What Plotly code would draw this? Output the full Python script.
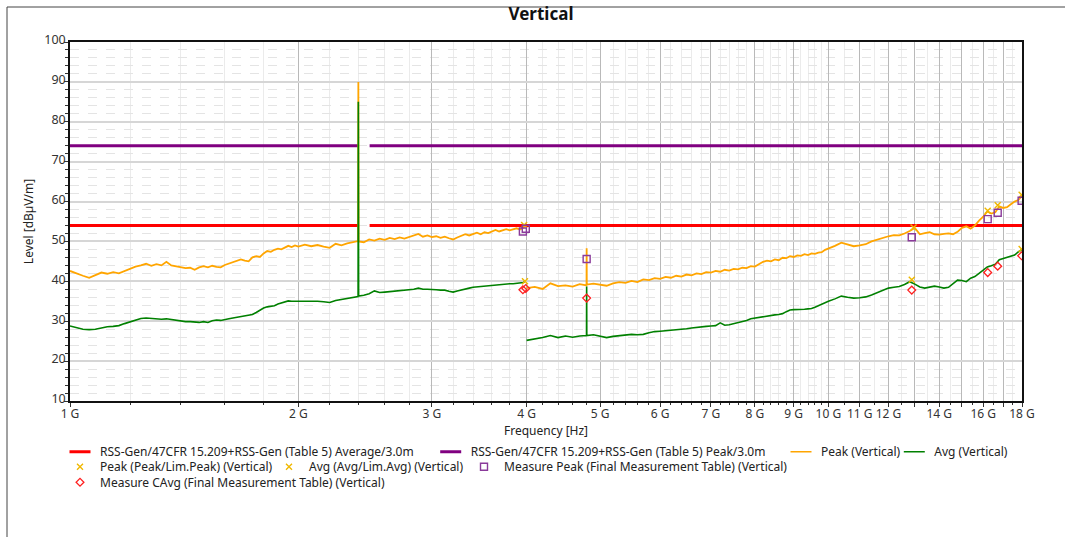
import math
import plotly.graph_objects as go

# ---------------- data (GHz / dBµV/m) ----------------
freq_seg1 = [1.00, 1.02, 1.04, 1.06, 1.08, 1.10, 1.12, 1.14, 1.16, 1.18,
             1.20, 1.22, 1.24, 1.26, 1.28, 1.30, 1.32, 1.34, 1.36, 1.38,
             1.40, 1.42, 1.44, 1.46, 1.48, 1.50, 1.52, 1.54, 1.56, 1.58,
             1.60, 1.62, 1.64, 1.66, 1.68, 1.70, 1.72, 1.74, 1.76, 1.78,
             1.80, 1.82, 1.84, 1.86, 1.88, 1.90, 1.92, 1.94, 1.96, 1.98,
             2.00, 2.04, 2.08, 2.12, 2.16, 2.20, 2.24, 2.28, 2.32, 2.36,
             2.398, 2.400, 2.402, 2.44, 2.48, 2.52, 2.56, 2.60, 2.64, 2.68,
             2.72, 2.76, 2.80, 2.84, 2.88, 2.92, 2.96, 3.00, 3.04, 3.08,
             3.12, 3.16, 3.20, 3.24, 3.28, 3.32, 3.36, 3.40, 3.44, 3.48,
             3.52, 3.56, 3.60, 3.64, 3.68, 3.72, 3.76, 3.80, 3.84, 3.88,
             3.92, 3.96, 3.98]
peak_seg1 = [42.6, 41.9, 41.4, 40.9, 41.5, 42.2, 41.9, 42.3, 42.0, 42.6,
             43.1, 43.7, 44.0, 44.4, 43.9, 44.3, 44.0, 44.9, 44.0, 43.8,
             43.6, 43.3, 43.4, 42.9, 43.5, 43.8, 43.5, 43.9, 43.6, 43.5,
             44.1, 44.5, 44.9, 45.3, 45.5, 45.2, 45.0, 46.0, 46.3, 46.1,
             47.0, 47.6, 47.4, 47.9, 48.2, 48.0, 48.5, 48.9, 48.6, 49.0,
             48.7, 49.2, 48.8, 49.1, 48.7, 48.4, 49.4, 49.0, 49.5, 49.8,
             50.1, 90.0, 50.0, 49.8, 50.5, 50.2, 50.7, 50.4, 50.9, 50.6,
             51.0, 50.7, 51.1, 51.4, 51.9, 51.2, 51.5, 51.1, 51.3, 50.9,
             51.2, 50.8, 50.5, 51.0, 51.4, 51.8, 51.5, 51.9, 52.2, 51.8,
             52.3, 52.1, 52.6, 52.9, 52.5, 52.8, 53.1, 52.8, 53.0, 53.3,
             53.0, 53.4, 53.9]
avg_seg1 = [28.8, 28.3, 28.0, 27.9, 28.0, 28.3, 28.6, 28.7, 28.9, 29.4,
            29.9, 30.3, 30.7, 30.8, 30.7, 30.6, 30.5, 30.6, 30.4, 30.2,
            30.0, 29.9, 29.9, 29.8, 29.7, 29.9, 29.7, 30.1, 30.3, 30.2,
            30.5, 30.6, 30.8, 31.0, 31.2, 31.3, 31.4, 31.7, 32.2, 32.8,
            33.3, 33.6, 33.7, 33.9, 34.3, 34.6, 34.9, 35.1, 35.0, 35.0,
            35.0, 35.0, 35.1, 35.0, 34.9, 34.7, 35.2, 35.5, 35.7, 36.0,
            36.2, 85.0, 36.3, 36.5, 36.9, 37.6, 37.2, 37.3, 37.4, 37.5,
            37.6, 37.8, 37.9, 38.0, 38.3, 38.0, 38.0, 38.0, 37.9, 37.8,
            37.8, 37.5, 37.3, 37.6, 37.9, 38.1, 38.3, 38.5, 38.6, 38.8,
            38.9, 39.0, 39.1, 39.2, 39.2, 39.3, 39.3, 39.4, 39.4, 39.5,
            39.5, 39.7, 40.0]

freq_seg2 = [4.0, 4.1, 4.2, 4.3, 4.4, 4.5, 4.6, 4.7, 4.798, 4.800,
             4.802, 4.9, 5.0, 5.1, 5.2, 5.3, 5.4, 5.5, 5.6, 5.7,
             5.8, 5.9, 6.0, 6.1, 6.2, 6.3, 6.4, 6.5, 6.6, 6.7,
             6.8, 6.9, 7.0, 7.1, 7.2, 7.3, 7.4, 7.5, 7.6, 7.7,
             7.8, 7.9, 8.0, 8.1, 8.2, 8.3, 8.4, 8.5, 8.6, 8.7,
             8.8, 8.9, 9.0, 9.1, 9.2, 9.3, 9.4, 9.5, 9.6, 9.7,
             9.8, 9.9, 10.0, 10.2, 10.4, 10.6, 10.8, 11.0, 11.2, 11.4,
             11.6, 11.8, 12.0, 12.2, 12.4, 12.6, 12.8, 13.0, 13.2, 13.4,
             13.6, 13.8, 14.0, 14.2, 14.4, 14.6, 14.8, 15.0, 15.2, 15.4,
             15.6, 15.8, 16.0, 16.2, 16.4, 16.6, 16.8, 17.0, 17.2, 17.4,
             17.6, 17.8, 18.0]
peak_seg2 = [38.3, 38.6, 38.1, 39.5, 38.8, 39.0, 38.7, 39.3, 39.0, 48.3,
             39.2, 39.4, 39.1, 38.9, 39.5, 39.8, 39.6, 40.1, 39.8, 40.5,
             40.3, 40.8, 40.6, 41.1, 40.9, 41.4, 41.2, 41.7, 41.5, 42.0,
             41.8, 42.3, 42.2, 42.6, 42.4, 42.9, 42.7, 43.1, 43.0, 43.4,
             43.3, 43.8, 43.7, 44.3, 44.9, 45.2, 45.0, 45.5, 45.3, 45.9,
             45.8, 46.3, 46.1, 46.5, 46.4, 46.8, 46.6, 47.0, 46.9, 47.2,
             47.3, 47.9, 48.2, 48.9, 49.7, 49.2, 48.8, 49.0, 49.3, 50.0,
             50.5, 50.9, 51.3, 51.6, 51.5, 52.0, 52.6, 53.4, 51.8, 52.1,
             52.3, 51.8, 51.7, 51.9, 52.0, 51.8, 52.4, 53.4, 53.8, 53.2,
             54.0, 55.2, 56.2, 57.5, 57.0, 57.3, 58.8, 58.4, 58.6, 59.3,
             60.0, 60.4, 61.4]
avg_seg2 = [25.2, 25.5, 25.9, 26.4, 25.9, 26.3, 26.0, 26.3, 26.4, 38.7,
            26.4, 26.6, 26.2, 25.9, 26.2, 26.4, 26.6, 26.7, 26.6, 26.7,
            27.1, 27.4, 27.5, 27.6, 27.7, 27.8, 28.0, 28.1, 28.3, 28.5,
            28.6, 28.7, 28.8, 28.9, 29.6, 29.0, 29.1, 29.4, 29.6, 29.8,
            30.2, 30.6, 30.8, 31.0, 31.2, 31.3, 31.4, 31.6, 31.7, 31.9,
            32.4, 32.8, 32.9, 32.9, 32.9, 33.0, 33.1, 33.2, 33.5, 33.9,
            34.3, 34.6, 35.0, 35.6, 36.3, 36.0, 35.8, 35.9, 36.1, 36.6,
            37.2, 37.8, 38.3, 38.5, 38.7, 39.2, 39.9, 39.3, 38.6, 38.3,
            38.6, 38.8, 38.6, 38.3, 38.5, 39.3, 40.3, 40.2, 39.9, 40.8,
            41.2, 42.0, 42.8, 43.6, 43.9, 44.3, 45.4, 45.7, 46.1, 46.3,
            46.6, 47.4, 48.0]

limit_freq = [1.0, 2.4, None, 2.4835, 18.0]
avg_limit = [54, 54, None, 54, 54]
peak_limit = [74, 74, None, 74, 74]

meas_peak_freq = [3.955, 3.99, 4.80, 12.88, 16.22, 16.72, 17.98]
meas_peak_level = [52.5, 53.2, 45.6, 51.05, 55.6, 57.2, 60.2]
meas_cavg_freq = [3.955, 3.99, 4.80, 12.88, 16.22, 16.72, 17.98]
meas_cavg_level = [37.9, 38.2, 35.8, 37.8, 42.2, 43.8, 46.4]
pk_lim_freq = [3.97, 12.95, 16.22, 16.72, 17.98]
pk_lim_level = [54.1, 53.5, 57.7, 59.1, 61.7]
av_lim_freq = [3.98, 12.88, 17.98]
av_lim_level = [40.0, 40.4, 48.1]

x_tick_vals = [1, 2, 3, 4, 5, 6, 7, 8, 9, 10, 11, 12, 13, 14, 15, 16, 17, 18]
x_tick_text = ["1 G", "2 G", "3 G", "4 G", "5 G", "6 G", "7 G", "8 G", "9 G",
               "10 G", "11 G", "12 G", "", "14 G", "", "16 G", "", "18 G"]

# ---------------- layout helpers ----------------
W, H = 1065, 537
L, R, T, B = 70, 1022, 42, 401
FONT = "Noto Sans"

C_AVG_LIM = "#ff0000"
C_PK_LIM = "#800080"
C_PEAK = "#ffa500"
C_AVG = "#008000"
C_X = "#f0b800"
C_SQ = "#8a3a9a"
C_DIA = "#ff2020"


def px_x(px):
    return (px - L) / (R - L)


def px_y(py):
    return (B - py) / (B - T)


minor_x = []
for g in range(1, 10):
    for k in range(1, 5):
        minor_x.append(round(g + 0.2 * k, 2))
for g in range(10, 18):
    minor_x.append(g + 0.5)

fig = go.Figure()

# data traces (legend entries for the line traces are drawn by short proxies below)
fig.add_trace(go.Scatter(x=limit_freq, y=avg_limit, mode="lines", showlegend=False,
                         name="RSS-Gen/47CFR 15.209+RSS-Gen (Table 5) Average/3.0m",
                         line=dict(color=C_AVG_LIM, width=3)))
fig.add_trace(go.Scatter(x=limit_freq, y=peak_limit, mode="lines", showlegend=False,
                         name="RSS-Gen/47CFR 15.209+RSS-Gen (Table 5) Peak/3.0m",
                         line=dict(color=C_PK_LIM, width=3)))
fig.add_trace(go.Scatter(x=freq_seg1 + [None] + freq_seg2,
                         y=peak_seg1 + [None] + peak_seg2, mode="lines",
                         name="Peak (Vertical)", showlegend=False,
                         line=dict(color=C_PEAK, width=1.8)))
fig.add_trace(go.Scatter(x=freq_seg1 + [None] + freq_seg2,
                         y=avg_seg1 + [None] + avg_seg2, mode="lines",
                         name="Avg (Vertical)", showlegend=False,
                         line=dict(color=C_AVG, width=1.6)))
fig.add_trace(go.Scatter(x=pk_lim_freq, y=pk_lim_level, mode="markers",
                         name="Peak (Peak/Lim.Peak) (Vertical)",
                         marker=dict(symbol="x-thin", size=6, color=C_X,
                                     line=dict(color=C_X, width=1.4)),
                         legend="legend5"))
fig.add_trace(go.Scatter(x=av_lim_freq, y=av_lim_level, mode="markers",
                         name="Avg (Avg/Lim.Avg) (Vertical)",
                         marker=dict(symbol="x-thin", size=6, color=C_X,
                                     line=dict(color=C_X, width=1.4)),
                         legend="legend6"))
fig.add_trace(go.Scatter(x=meas_peak_freq, y=meas_peak_level, mode="markers",
                         name="Measure Peak (Final Measurement Table) (Vertical)",
                         marker=dict(symbol="square-open", size=7, color=C_SQ,
                                     line=dict(width=1.4)),
                         legend="legend7"))
fig.add_trace(go.Scatter(x=meas_cavg_freq, y=meas_cavg_level, mode="markers",
                         name="Measure CAvg (Final Measurement Table) (Vertical)",
                         marker=dict(symbol="diamond-open", size=6, color=C_DIA,
                                     line=dict(width=1.3)),
                         legend="legend8"))

# legend proxies: short line symbols like the reference legend
proxies = [
    ("RSS-Gen/47CFR 15.209+RSS-Gen (Table 5) Average/3.0m", C_AVG_LIM, 3, "legend"),
    ("RSS-Gen/47CFR 15.209+RSS-Gen (Table 5) Peak/3.0m", C_PK_LIM, 3, "legend2"),
    ("Peak (Vertical)", C_PEAK, 1.6, "legend3"),
    ("Avg (Vertical)", C_AVG, 1.6, "legend4"),
]
for name, col, w, lg in proxies:
    fig.add_trace(go.Scatter(x=[None], y=[None], mode="markers", name=name,
                             marker=dict(symbol="line-ew", size=15, color=col,
                                         line=dict(color=col, width=w)),
                             legend=lg, hoverinfo="skip"))

legend_font = dict(family=FONT, size=12, color="#222222")
row_y = [451.7, 466.7, 482.3]
legend_pos = {
    "legend": (100, row_y[0]),
    "legend2": (470.7, row_y[0]),
    "legend3": (821, row_y[0]),
    "legend4": (934.3, row_y[0]),
    "legend5": (100, row_y[1]),
    "legend6": (309, row_y[1]),
    "legend7": (504, row_y[1]),
    "legend8": (100, row_y[2]),
}
legend_layout = {}
for key, (tx, ty) in legend_pos.items():
    legend_layout[key] = dict(x=px_x(tx - 40), y=px_y(ty), xanchor="left",
                              yanchor="middle", orientation="h",
                              bgcolor="rgba(0,0,0,0)", borderwidth=0,
                              font=legend_font)

fig.update_layout(
    width=W, height=H,
    margin=dict(l=L, r=W - R, t=T, b=H - B),
    paper_bgcolor="white", plot_bgcolor="white",
    font=dict(family=FONT, size=12, color="#222222"),
    title=dict(text="<b>Vertical</b>", x=541 / W, xref="container", xanchor="center",
               y=1 - 14 / H, yref="container", yanchor="middle",
               font=dict(family=FONT, size=17, color="#111111")),
    showlegend=True,
    **legend_layout,
    shapes=[
        dict(type="line", xref="paper", yref="paper", x0=px_x(7), x1=px_x(7),
             y0=px_y(7), y1=px_y(537), line=dict(color="#444444", width=1)),
        dict(type="line", xref="paper", yref="paper", x0=px_x(7), x1=px_x(1065),
             y0=px_y(7), y1=px_y(7), line=dict(color="#444444", width=1)),
    ],
)

fig.update_xaxes(
    type="log", range=[0, math.log10(18)],
    tickmode="array", tickvals=x_tick_vals, ticktext=x_tick_text,
    ticks="outside", ticklen=4, tickcolor="#333333", ticklabelstandoff=-3,
    tickfont=dict(family=FONT, size=12, color="#333333"),
    showgrid=True, gridcolor="#b9b9b9", gridwidth=1,
    showline=True, linecolor="#111111", linewidth=1.5, mirror=True,
    zeroline=False,
    minor=dict(tickmode="array", tickvals=minor_x, ticks="outside", ticklen=2,
               tickcolor="#333333", showgrid=True, gridcolor="#ebebeb", gridwidth=1),
    title=dict(text="Frequency [Hz]", standoff=5,
               font=dict(family=FONT, size=12, color="#222222")),
)
fig.update_yaxes(
    range=[10, 100], dtick=10, tick0=10,
    ticks="outside", ticklen=4, tickcolor="#333333",
    ticklabelstandoff=-4, ticklabelshift=-2,
    tickfont=dict(family=FONT, size=12.5, color="#333333"),
    showgrid=True, gridcolor="#d6d6d6", gridwidth=2,
    showline=True, linecolor="#111111", linewidth=1.5, mirror=True,
    zeroline=False,
    minor=dict(dtick=2, ticks="outside", ticklen=3, tickcolor="#333333",
               showgrid=True, gridcolor="#e4e4e4", gridwidth=1, griddash="dash"),
    title=dict(text="Level [dBµV/m]", standoff=8,
               font=dict(family=FONT, size=12, color="#222222")),
)

fig.write_html("out.html")
